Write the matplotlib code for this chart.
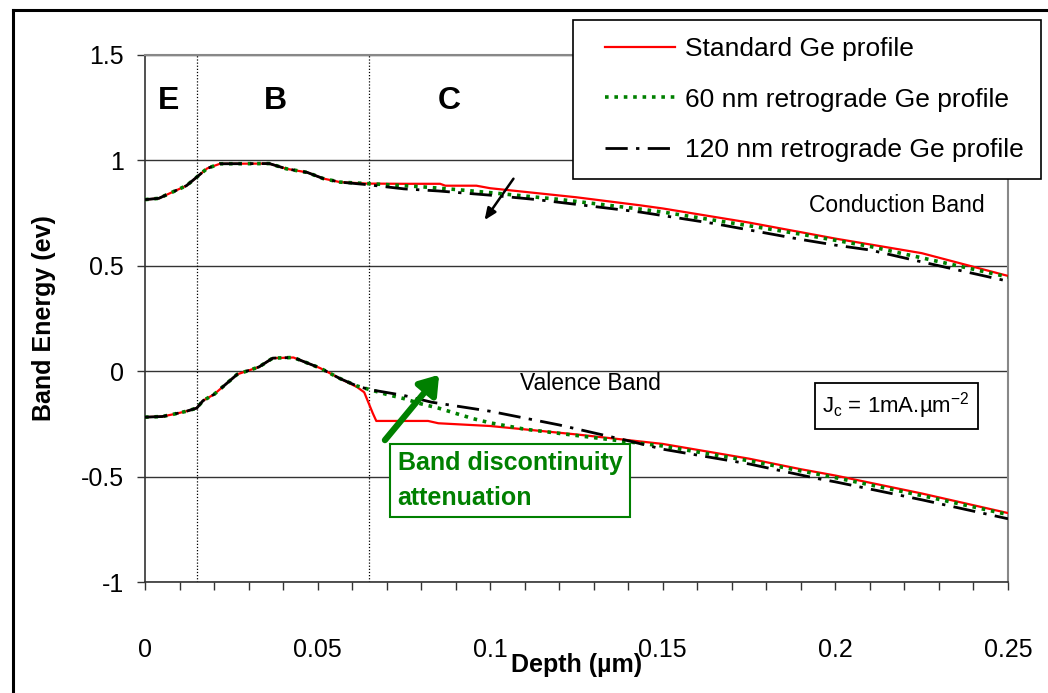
import matplotlib
matplotlib.use("Agg")
import matplotlib.pyplot as plt
from matplotlib.lines import Line2D
from matplotlib.legend_handler import HandlerLine2D
from matplotlib.ticker import MultipleLocator

plt.rcParams["font.family"] = ["Liberation Sans", "DejaVu Sans"]
plt.rcParams["mathtext.fontset"] = "custom"
plt.rcParams["mathtext.rm"] = "Liberation Sans"
plt.rcParams["mathtext.it"] = "Liberation Sans:italic"

# Conduction band (eV) vs depth (um)
cb_std_x = [0, 0.004, 0.008, 0.012, 0.0145, 0.018, 0.0217, 0.036, 0.041, 0.047, 0.0516,
            0.0565, 0.0643, 0.075, 0.0855, 0.087, 0.096, 0.1, 0.125, 0.1434, 0.15, 0.175,
            0.2, 0.225, 0.25]
cb_std_y = [0.814, 0.82, 0.85, 0.88, 0.914, 0.962, 0.984, 0.985, 0.96, 0.943, 0.914,
            0.897, 0.89, 0.889, 0.889, 0.88, 0.88, 0.868, 0.825, 0.787, 0.772, 0.705,
            0.629, 0.56, 0.452]
cb_60_x = [0, 0.004, 0.008, 0.012, 0.0145, 0.018, 0.0217, 0.036, 0.041, 0.047, 0.0516,
           0.0565, 0.0643, 0.07, 0.08, 0.09, 0.1, 0.12, 0.143, 0.15, 0.175, 0.19, 0.21,
           0.236, 0.25]
cb_60_y = [0.814, 0.82, 0.85, 0.88, 0.914, 0.962, 0.984, 0.985, 0.96, 0.943, 0.914,
           0.897, 0.89, 0.885, 0.875, 0.862, 0.847, 0.815, 0.77, 0.755, 0.69, 0.65, 0.592,
           0.498, 0.447]
cb_120_x = [0, 0.004, 0.008, 0.012, 0.0145, 0.018, 0.0217, 0.036, 0.041, 0.047, 0.0516,
            0.0565, 0.0643, 0.075, 0.085, 0.1, 0.1135, 0.1434, 0.165, 0.19, 0.2, 0.21,
            0.223, 0.236, 0.25]
cb_120_y = [0.814, 0.82, 0.85, 0.88, 0.914, 0.962, 0.984, 0.985, 0.96, 0.943, 0.914,
            0.897, 0.885, 0.865, 0.855, 0.835, 0.814, 0.755, 0.70, 0.625, 0.598, 0.575,
            0.526, 0.478, 0.427]

# Valence band (eV) vs depth (um)
vb_std_x = [0, 0.005, 0.008, 0.012, 0.015, 0.0168, 0.02, 0.0267, 0.033, 0.037, 0.043,
            0.0507, 0.0565, 0.0614, 0.0635, 0.066, 0.067, 0.082, 0.085, 0.1, 0.125, 0.15,
            0.175, 0.19, 0.2, 0.225, 0.25]
vb_std_y = [-0.218, -0.215, -0.205, -0.19, -0.175, -0.14, -0.11, -0.015, 0.02, 0.062,
            0.065, 0.015, -0.035, -0.075, -0.1, -0.2, -0.236, -0.236, -0.247, -0.26,
            -0.30, -0.345, -0.415, -0.465, -0.495, -0.58, -0.673]
vb_60_x = [0, 0.005, 0.008, 0.012, 0.015, 0.0168, 0.02, 0.0267, 0.033, 0.037, 0.043,
           0.0507, 0.0565, 0.0614, 0.065, 0.07, 0.075, 0.08, 0.085, 0.09, 0.095, 0.1,
           0.105, 0.11, 0.125, 0.15, 0.175, 0.2, 0.225, 0.25]
vb_60_y = [-0.218, -0.215, -0.205, -0.19, -0.175, -0.14, -0.11, -0.015, 0.02, 0.062,
           0.065, 0.015, -0.035, -0.07, -0.087, -0.11, -0.13, -0.155, -0.175, -0.2,
           -0.225, -0.245, -0.26, -0.275, -0.305, -0.355, -0.425, -0.505, -0.59, -0.68]
vb_120_x = [0, 0.005, 0.008, 0.012, 0.015, 0.0168, 0.02, 0.0267, 0.033, 0.037, 0.043,
            0.0507, 0.0565, 0.0614, 0.065, 0.075, 0.083, 0.1, 0.12, 0.14, 0.15, 0.175,
            0.195, 0.2, 0.225, 0.25]
vb_120_y = [-0.218, -0.215, -0.205, -0.19, -0.175, -0.14, -0.11, -0.015, 0.02, 0.062,
            0.065, 0.015, -0.035, -0.07, -0.087, -0.115, -0.147, -0.19, -0.255, -0.33,
            -0.37, -0.44, -0.51, -0.525, -0.61, -0.70]

labels = ["Standard Ge profile", "60 nm retrograde Ge profile", "120 nm retrograde Ge profile"]
regions = ["E", "B", "C"]
region_x = [0.0068, 0.0377, 0.088]
boundaries = [0.015, 0.065]

W, H = 1048, 693
fig = plt.figure(figsize=(W / 100, H / 100), dpi=100)
ax = fig.add_axes([145 / W, 1 - 582 / H, (1008 - 145) / W, (582 - 55) / H])

# outer frame of the original figure
fig.add_artist(Line2D([13 / W, 13 / W], [0, 1 - 10 / H], color="black", lw=2.2,
                      transform=fig.transFigure))
fig.add_artist(Line2D([13 / W, 1], [1 - 10 / H, 1 - 10 / H], color="black", lw=2.2,
                      transform=fig.transFigure))

red_kw = dict(color="#ff0000", lw=1.6, zorder=3)
green_kw = dict(color="#008000", lw=2.6, ls=(0, (1, 1.6)), zorder=4)
black_kw = dict(color="black", lw=2.0, ls=(0, (8, 3, 1.2, 3)), zorder=5)

l1, = ax.plot(cb_std_x, cb_std_y, label=labels[0], **red_kw)
ax.plot(vb_std_x, vb_std_y, **red_kw)
l2, = ax.plot(cb_60_x, cb_60_y, label=labels[1], **green_kw)
ax.plot(vb_60_x, vb_60_y, **green_kw)
l3, = ax.plot(cb_120_x, cb_120_y, label=labels[2], **black_kw)
ax.plot(vb_120_x, vb_120_y, **black_kw)

for b in boundaries:
    ax.axvline(b, color="black", lw=0.9, ls=(0, (1, 1.5)), zorder=2)
for r, xr in zip(regions, region_x):
    ax.text(xr, 1.28, r, fontsize=23, fontweight="bold", ha="center", va="center")

ax.set_xlim(0, 0.25)
ax.set_ylim(-1, 1.5)
ax.xaxis.set_minor_locator(MultipleLocator(0.01))
ax.set_xticks([0, 0.05, 0.1, 0.15, 0.2, 0.25])
ax.set_xticklabels(["0", "0.05", "0.1", "0.15", "0.2", "0.25"])
ax.set_yticks([-1, -0.5, 0, 0.5, 1, 1.5])
ax.set_yticklabels(["-1", "-0.5", "0", "0.5", "1", "1.5"])
ax.tick_params(axis="both", which="major", direction="out", length=6, width=1,
               labelsize=18, color="#333333")
ax.tick_params(axis="x", which="minor", direction="out", length=6, width=1, color="#333333")
ax.tick_params(axis="x", which="major", pad=34)
ax.tick_params(axis="y", which="major", pad=9)
ax.grid(axis="y", color="#333333", lw=1.0, zorder=1)
for s in ["top", "right"]:
    ax.spines[s].set_color("#888888")
    ax.spines[s].set_linewidth(1.5)
for s in ["left", "bottom"]:
    ax.spines[s].set_color("#333333")
    ax.spines[s].set_linewidth(1.2)

ax.set_xlabel("Depth (µm)", fontsize=18, fontweight="bold", labelpad=-6)
ax.set_ylabel("Band Energy (ev)", fontsize=18, fontweight="bold", labelpad=18)

ax.text(0.2178, 0.787, "Conduction Band", fontsize=16.5, ha="center", va="center")
ax.text(0.129, -0.06, "Valence Band", fontsize=16.5, ha="center", va="center")
ax.text(0.2176, -0.165, r"J$_\mathrm{c}$ = 1mA.µm$^{-2}$", fontsize=16,
        ha="center", va="center",
        bbox=dict(boxstyle="square,pad=0.35", fc="white", ec="black", lw=1.3))

ax.annotate("", xy=(0.0979, 0.706), xytext=(0.1072, 0.924),
            arrowprops=dict(arrowstyle="-|>,head_length=0.7,head_width=0.3",
                            color="black", lw=1.8))
ax.annotate("", xy=(0.0852, -0.017), xytext=(0.0695, -0.327),
            arrowprops=dict(arrowstyle="-|>,head_length=1.1,head_width=0.75",
                            color="#008000", lw=4.5, shrinkA=0, shrinkB=0), zorder=6)
ax.text(0.1057, -0.519, "Band discontinuity\nattenuation", fontsize=18,
        fontweight="bold", color="#008000", ha="center", va="center",
        multialignment="left", linespacing=1.55, zorder=7,
        bbox=dict(boxstyle="square,pad=0.3", fc="white", ec="#008000", lw=1.5))

leg = fig.legend(handles=[l1, l2, l3], loc="upper left",
                 bbox_to_anchor=(573 / W, 1 - 20 / H), fontsize=19,
                 frameon=True, fancybox=False, edgecolor="black", framealpha=1,
                 handlelength=3.22, handletextpad=0.38, labelspacing=1.0,
                 borderpad=0.65, borderaxespad=0,
                 handler_map={Line2D: HandlerLine2D(xpad=0.57)})
leg.get_frame().set_linewidth(1.2)

fig.savefig("out.png", dpi=100)
